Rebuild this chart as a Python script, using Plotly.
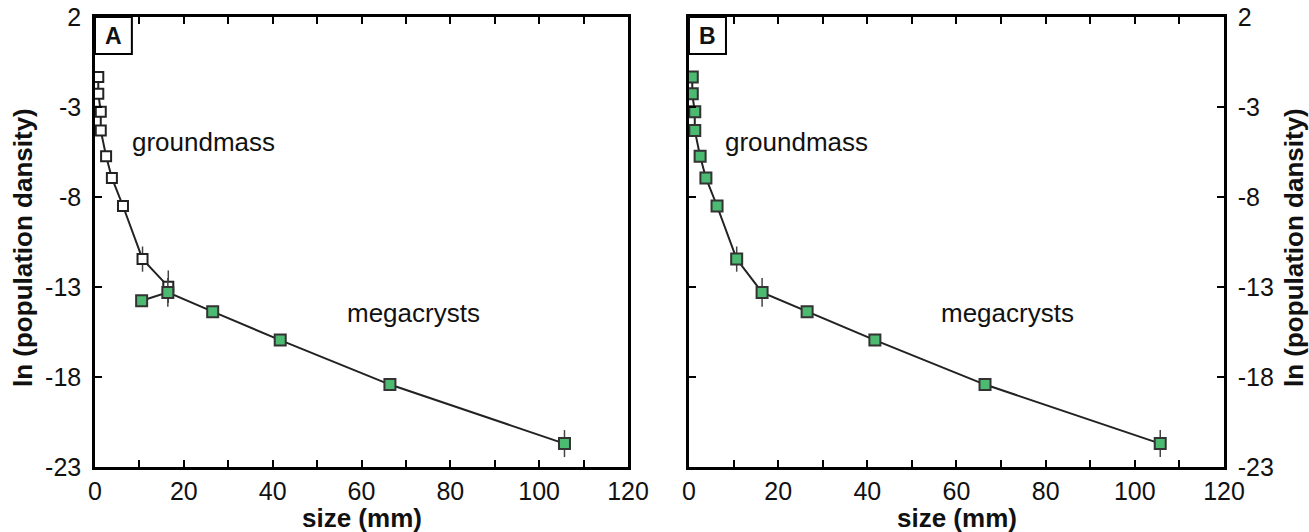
import plotly.graph_objects as go

# ---- data ----
gm_size = [0.74, 0.74, 1.3, 1.3, 2.5, 3.8, 6.3, 10.7, 16.5]
gm_lnpd = [-1.33, -2.26, -3.26, -4.3, -5.73, -6.94, -8.5, -11.45, -12.98]
gm_err = [0, 0, 0, 0, 0, 0, 0, 0.7, 0.9]

mc_size = [10.5, 16.4, 26.5, 41.7, 66.4, 105.7]
mc_lnpd = [-13.76, -13.3, -14.37, -15.95, -18.42, -21.7]
mc_err = [0, 0.8, 0, 0, 0, 0.75]

# panel B: groundmass (first 8 points) + megacrysts from 16.4 mm on
b_size = gm_size[:8] + mc_size[1:]
b_lnpd = gm_lnpd[:8] + mc_lnpd[1:]
b_err = gm_err[:8] + mc_err[1:]

x_ticks = list(range(0, 121, 10))
x_labels = [str(v) if v % 20 == 0 else "" for v in x_ticks]
y_ticks = [2, -3, -8, -13, -18, -23]
y_labels = [str(v) for v in y_ticks]

x_title = "size (mm)"
y_title = "ln (population dansity)"

FONT = "Arial, Liberation Sans, sans-serif"
GREEN = "#4dba72"
DARK = "#222222"
TXT = "#111111"

fig = go.Figure()

# Panel A
fig.add_trace(go.Scatter(
    x=gm_size, y=gm_lnpd, mode="lines+markers", xaxis="x", yaxis="y",
    line=dict(color=DARK, width=2),
    marker=dict(symbol="square", size=10, color="white", line=dict(color=DARK, width=2)),
    error_y=dict(type="data", array=gm_err, color="#444", thickness=1.5, width=0),
    showlegend=False))
fig.add_trace(go.Scatter(
    x=mc_size, y=mc_lnpd, mode="lines+markers", xaxis="x", yaxis="y",
    line=dict(color=DARK, width=2),
    marker=dict(symbol="square", size=11, color=GREEN, line=dict(color="#333", width=2)),
    error_y=dict(type="data", array=mc_err, color="#444", thickness=1.5, width=0),
    showlegend=False))

# Panel B
fig.add_trace(go.Scatter(
    x=b_size, y=b_lnpd, mode="lines+markers", xaxis="x2", yaxis="y2",
    line=dict(color=DARK, width=2),
    marker=dict(symbol="square", size=11, color=GREEN, line=dict(color="#333", width=2)),
    error_y=dict(type="data", array=b_err, color="#444", thickness=1.5, width=0),
    showlegend=False))

axis_common = dict(showline=True, linecolor="black", linewidth=2.5, ticks="inside",
                   tickcolor="black", tickwidth=2, ticklen=7, showgrid=False,
                   zeroline=False, automargin=False,
                   tickfont=dict(family=FONT, size=25, color=TXT))

xcommon = dict(axis_common, range=[0, 120], tickmode="array", tickvals=x_ticks,
               ticktext=x_labels, mirror="ticks", ticklabelstandoff=0)
ycommon = dict(axis_common, range=[-23, 2], tickmode="array", tickvals=y_ticks,
               ticktext=y_labels, ticklabelstandoff=6)

fig.update_layout(
    width=1309, height=532,
    margin=dict(l=95, r=85, t=17, b=65),
    paper_bgcolor="white", plot_bgcolor="white",
    xaxis=dict(xcommon, domain=[0, 0.4721], anchor="y"),
    yaxis=dict(ycommon, domain=[0, 1], anchor="x", mirror=True),
    xaxis2=dict(xcommon, domain=[0.5261, 1], anchor="y2"),
    yaxis2=dict(ycommon, domain=[0, 1], anchor="x2", side="right", mirror="ticks"),
)

# axis titles as annotations (pixel placed)
PW, PH = 1129.0, 450.0
def px2x(px):
    return (px - 95) / PW
def py2y(py):
    return 1 - (py - 17) / PH

for cx in (361.5, 956.5):
    fig.add_annotation(xref="paper", yref="paper", x=px2x(cx), y=py2y(518),
                       text="<b>%s</b>" % x_title, showarrow=False,
                       xanchor="center", yanchor="middle",
                       font=dict(family=FONT, size=26, color=TXT))
for cx in (23, 1294):
    fig.add_annotation(xref="paper", yref="paper", x=px2x(cx), y=py2y(248),
                       text="<b>%s</b>" % y_title, showarrow=False, textangle=-90,
                       xanchor="center", yanchor="middle",
                       font=dict(family=FONT, size=26, color=TXT))

# panel label boxes
for xr, yr, lab in [("x", "y", "A"), ("x2", "y2", "B")]:
    fig.add_shape(type="rect", xref=xr, yref=yr, x0=0, x1=8.3, y0=2, y1=-0.05,
                  line=dict(color="black", width=2), fillcolor="white")
    fig.add_annotation(xref=xr, yref=yr, x=4.15, y=0.97, text="<b>%s</b>" % lab,
                       showarrow=False, font=dict(family=FONT, size=23, color=TXT))

# region annotations
for xr, yr, gx, mx in [("x", "y", 7.9, 56.3), ("x2", "y2", 7.55, 56.0)]:
    fig.add_annotation(xref=xr, yref=yr, x=gx, y=-4.94, text="groundmass", xanchor="left",
                       showarrow=False, font=dict(family=FONT, size=26, color=TXT))
    fig.add_annotation(xref=xr, yref=yr, x=mx, y=-14.45, text="megacrysts", xanchor="left",
                       showarrow=False, font=dict(family=FONT, size=26, color=TXT))

fig.write_html("out.html", config={"displayModeBar": False},
               post_script="document.body.style.margin='0';document.body.style.overflow='hidden';")
